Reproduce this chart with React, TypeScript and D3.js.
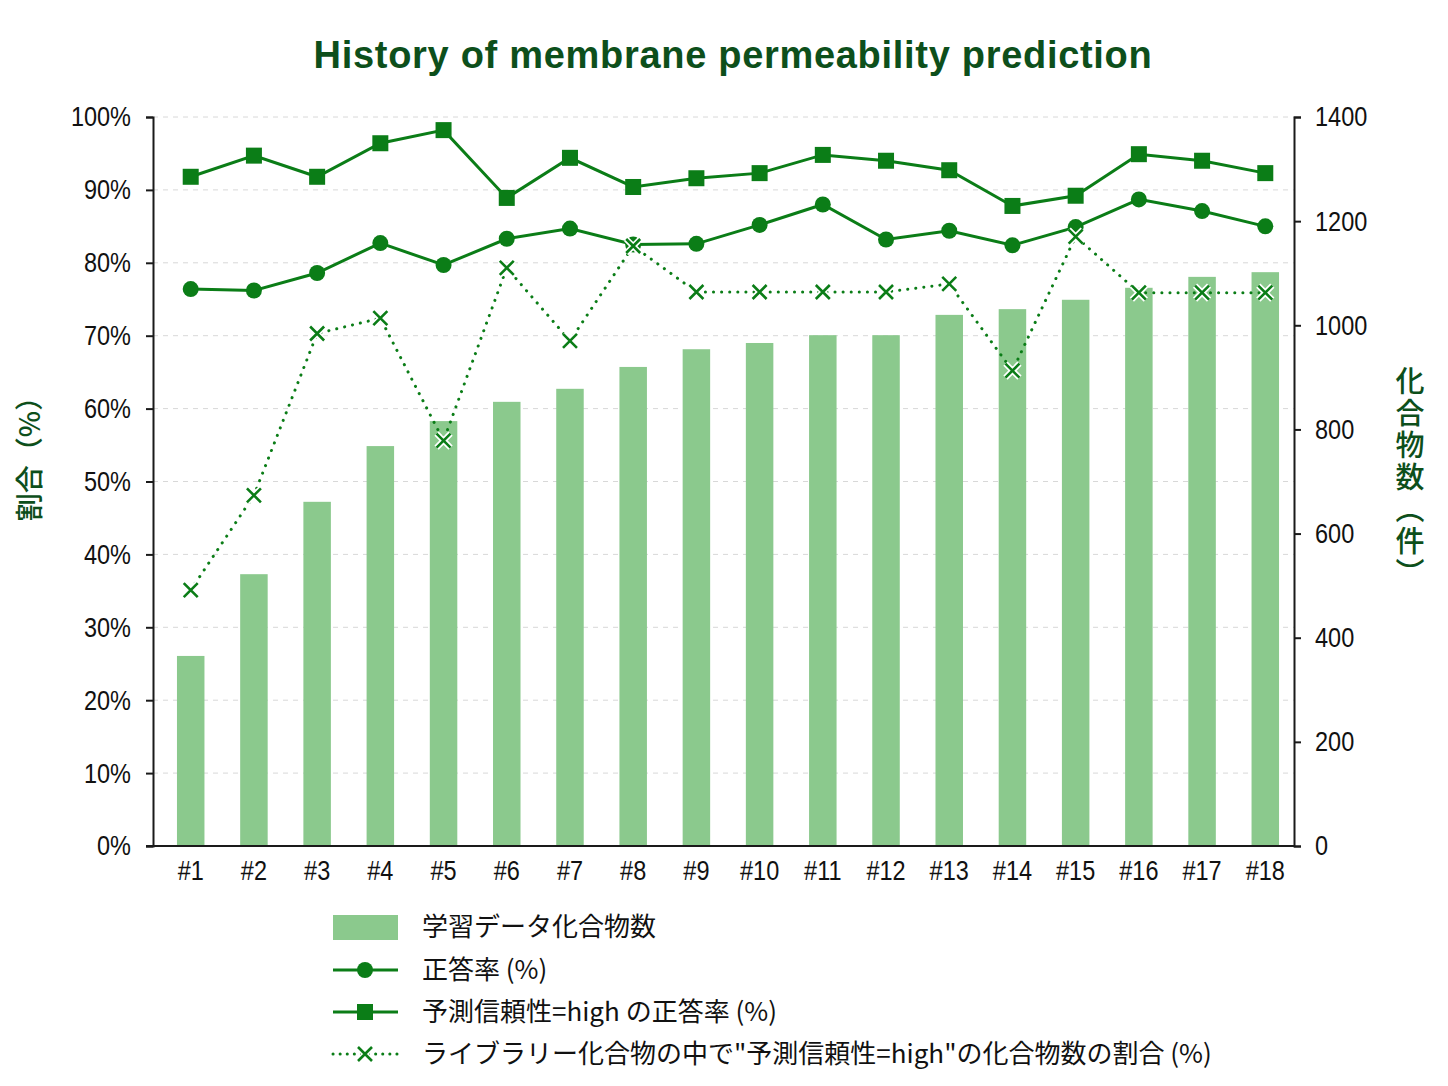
import React, { useEffect, useRef } from 'react';
import * as d3 from 'd3';

const rounds = ['#1', '#2', '#3', '#4', '#5', '#6', '#7', '#8', '#9', '#10', '#11', '#12', '#13', '#14', '#15', '#16', '#17', '#18'];
const compounds = [365, 522, 661, 768, 816, 853, 878, 920, 954, 966, 981, 981, 1020, 1031, 1049, 1072, 1093, 1102];
const accuracy = [76.4, 76.2, 78.6, 82.7, 79.7, 83.3, 84.7, 82.5, 82.6, 85.2, 88.0, 83.2, 84.4, 82.4, 84.9, 88.7, 87.1, 85.0];
const highAccuracy = [91.8, 94.7, 91.8, 96.4, 98.2, 88.9, 94.4, 90.4, 91.6, 92.3, 94.8, 94.0, 92.7, 87.8, 89.2, 94.9, 94.0, 92.3];
const highShare = [35.1, 48.1, 70.3, 72.4, 55.6, 79.3, 69.3, 82.3, 76.0, 76.0, 76.0, 76.0, 77.1, 65.2, 83.6, 75.9, 75.9, 75.9];
const pctTicks = [0, 10, 20, 30, 40, 50, 60, 70, 80, 90, 100];
const countTicks = [0, 200, 400, 600, 800, 1000, 1200, 1400];
const legendLabels = [
  '学習データ化合物数',
  '正答率 (%)',
  '予測信頼性=high の正答率 (%)',
  'ライブラリー化合物の中で"予測信頼性=high"の化合物数の割合 (%)',
];

const GREEN = '#0b7d17';
const BAR = '#8bc98d';
const DARK = '#0d4f1b';
const NUM_FONT = '"Liberation Sans", Arial, sans-serif';
const JP_FONT = '"Noto Sans CJK JP", "Noto Sans", sans-serif';
const SQUEEZE = 0.84; // numbers in the reference are narrow

const App = () => {
  const svgRef = useRef<SVGSVGElement | null>(null);

  useEffect(() => {
    document.body.style.margin = '0';
    const svg = d3.select(svgRef.current);
    svg.selectAll('*').remove();

    const left = 153, right = 1294, top = 117, bottom = 846;

    const x = d3.scaleBand<string>()
      .domain(rounds)
      .range([158, 1298])
      .paddingInner(0.565)
      .paddingOuter(0.3);
    const cx = (i: number) => (x(rounds[i]) as number) + x.bandwidth() / 2;

    const yPct = d3.scaleLinear().domain([0, 100]).range([bottom, top]);
    const yCnt = d3.scaleLinear().domain([0, 1400]).range([bottom, top]);

    // title
    svg.append('text')
      .attr('x', 733).attr('y', 68)
      .attr('text-anchor', 'middle')
      .attr('font-family', '"Liberation Sans", Arial, sans-serif')
      .attr('font-weight', 'bold')
      .attr('font-size', 38)
      .attr('letter-spacing', 0.7)
      .attr('fill', DARK)
      .text('History of membrane permeability prediction');

    // grid
    svg.append('g').selectAll('line')
      .data(pctTicks.slice(1))
      .join('line')
      .attr('x1', left).attr('x2', right)
      .attr('y1', d => yPct(d)).attr('y2', d => yPct(d))
      .attr('stroke', '#d8d8d8')
      .attr('stroke-width', 1)
      .attr('stroke-dasharray', '5 5');

    // bars
    svg.append('g').selectAll('rect')
      .data(compounds)
      .join('rect')
      .attr('x', (_, i) => x(rounds[i]) as number)
      .attr('width', x.bandwidth())
      .attr('y', d => yCnt(d))
      .attr('height', d => bottom - yCnt(d))
      .attr('fill', BAR);

    const squeeze = (ax: d3.Selection<SVGGElement, unknown, null, undefined>) => {
      ax.selectAll<SVGTextElement, unknown>('.tick text').each(function () {
        const t = d3.select(this);
        const tx = +(t.attr('x') || 0);
        t.attr('x', tx / SQUEEZE)
          .attr('transform', `scale(${SQUEEZE},1)`)
          .attr('font-family', NUM_FONT)
          .attr('font-size', 28)
          .attr('fill', '#111');
      });
    };

    // axes
    const axL = svg.append('g')
      .attr('transform', `translate(${left},0)`)
      .call(d3.axisLeft(yPct).tickValues(pctTicks).tickFormat(d => `${d}%`).tickSizeOuter(0).tickSize(7).tickPadding(15));
    const axR = svg.append('g')
      .attr('transform', `translate(${right},0)`)
      .call(d3.axisRight(yCnt).tickValues(countTicks).tickFormat(d3.format('d')).tickSizeOuter(0).tickSize(7).tickPadding(14));
    [axL, axR].forEach(ax => {
      ax.select('.domain').attr('stroke', '#1a1a1a').attr('stroke-width', 2);
      ax.selectAll('.tick line').attr('stroke', '#1a1a1a').attr('stroke-width', 2);
      squeeze(ax);
    });

    // x axis
    const axB = svg.append('g')
      .attr('transform', `translate(0,${bottom})`)
      .call(d3.axisBottom(x).tickSize(0).tickPadding(14));
    axB.select('.domain').remove();
    squeeze(axB);
    svg.append('line')
      .attr('x1', 146).attr('x2', right + 1)
      .attr('y1', bottom).attr('y2', bottom)
      .attr('stroke', '#1a1a1a').attr('stroke-width', 2);

    // axis titles
    svg.append('text')
      .attr('transform', `translate(40,452) rotate(-90)`)
      .attr('text-anchor', 'middle')
      .attr('font-family', JP_FONT)
      .attr('font-weight', 500)
      .attr('font-size', 28)
      .attr('fill', DARK)
      .text('割合（%）');
    svg.append('text')
      .attr('x', 1410).attr('y', 478)
      .attr('text-anchor', 'middle')
      .style('writing-mode', 'vertical-rl')
      .attr('font-family', JP_FONT)
      .attr('font-weight', 500)
      .attr('font-size', 29)
      .attr('letter-spacing', 3)
      .attr('fill', DARK)
      .text('化合物数（件）');

    const line = d3.line<number>().x((_, i) => cx(i)).y(d => yPct(d));

    // dotted share line
    svg.append('path')
      .datum(highShare)
      .attr('d', line)
      .attr('fill', 'none')
      .attr('stroke', GREEN)
      .attr('stroke-width', 3)
      .attr('stroke-linecap', 'round')
      .attr('stroke-dasharray', '0.1 8');

    const crossPath = (s: number) => `M${-s},${-s}L${s},${s}M${-s},${s}L${s},${-s}`;
    const drawCross = (g: d3.Selection<SVGGElement, unknown, null, undefined>, px: number, py: number) => {
      g.append('path').attr('transform', `translate(${px},${py})`).attr('d', crossPath(7))
        .attr('stroke', '#fff').attr('stroke-width', 6).attr('fill', 'none');
      g.append('path').attr('transform', `translate(${px},${py})`).attr('d', crossPath(7))
        .attr('stroke', GREEN).attr('stroke-width', 2.6).attr('fill', 'none');
    };

    // accuracy lines
    svg.append('path')
      .datum(accuracy)
      .attr('d', line)
      .attr('fill', 'none')
      .attr('stroke', GREEN)
      .attr('stroke-width', 3);
    svg.append('g').selectAll('circle')
      .data(accuracy)
      .join('circle')
      .attr('cx', (_, i) => cx(i))
      .attr('cy', d => yPct(d))
      .attr('r', 8)
      .attr('fill', GREEN);

    svg.append('path')
      .datum(highAccuracy)
      .attr('d', line)
      .attr('fill', 'none')
      .attr('stroke', GREEN)
      .attr('stroke-width', 3);
    svg.append('g').selectAll('rect')
      .data(highAccuracy)
      .join('rect')
      .attr('x', (_, i) => cx(i) - 8)
      .attr('y', d => yPct(d) - 8)
      .attr('width', 16)
      .attr('height', 16)
      .attr('fill', GREEN);

    const crosses = svg.append('g');
    highShare.forEach((d, i) => drawCross(crosses, cx(i), yPct(d)));

    // legend
    const lg = svg.append('g');
    const rowY = [927, 970, 1012, 1054];
    const sx0 = 333, sx1 = 398, smid = 365;
    lg.append('rect').attr('x', sx0).attr('y', rowY[0] - 12).attr('width', sx1 - sx0).attr('height', 25).attr('fill', BAR);
    lg.append('line').attr('x1', sx0).attr('x2', sx1).attr('y1', rowY[1]).attr('y2', rowY[1]).attr('stroke', GREEN).attr('stroke-width', 3);
    lg.append('circle').attr('cx', smid).attr('cy', rowY[1]).attr('r', 8).attr('fill', GREEN);
    lg.append('line').attr('x1', sx0).attr('x2', sx1).attr('y1', rowY[2]).attr('y2', rowY[2]).attr('stroke', GREEN).attr('stroke-width', 3);
    lg.append('rect').attr('x', smid - 8).attr('y', rowY[2] - 8).attr('width', 16).attr('height', 16).attr('fill', GREEN);
    lg.append('line').attr('x1', sx0).attr('x2', sx1).attr('y1', rowY[3]).attr('y2', rowY[3])
      .attr('stroke', GREEN).attr('stroke-width', 3).attr('stroke-linecap', 'round').attr('stroke-dasharray', '0.1 7');
    drawCross(lg, smid, rowY[3]);

    lg.selectAll('text.lbl')
      .data(legendLabels)
      .join('text')
      .attr('class', 'lbl')
      .attr('x', 422)
      .attr('y', (_, i) => rowY[i])
      .attr('dy', '0.35em')
      .attr('font-family', JP_FONT)
      .attr('font-size', 26)
      .attr('fill', '#111')
      .text(d => d);
  }, []);

  return <svg ref={svgRef} width={1448} height={1086} style={{ display: 'block', background: '#fff' }}></svg>;
};

export default App;
